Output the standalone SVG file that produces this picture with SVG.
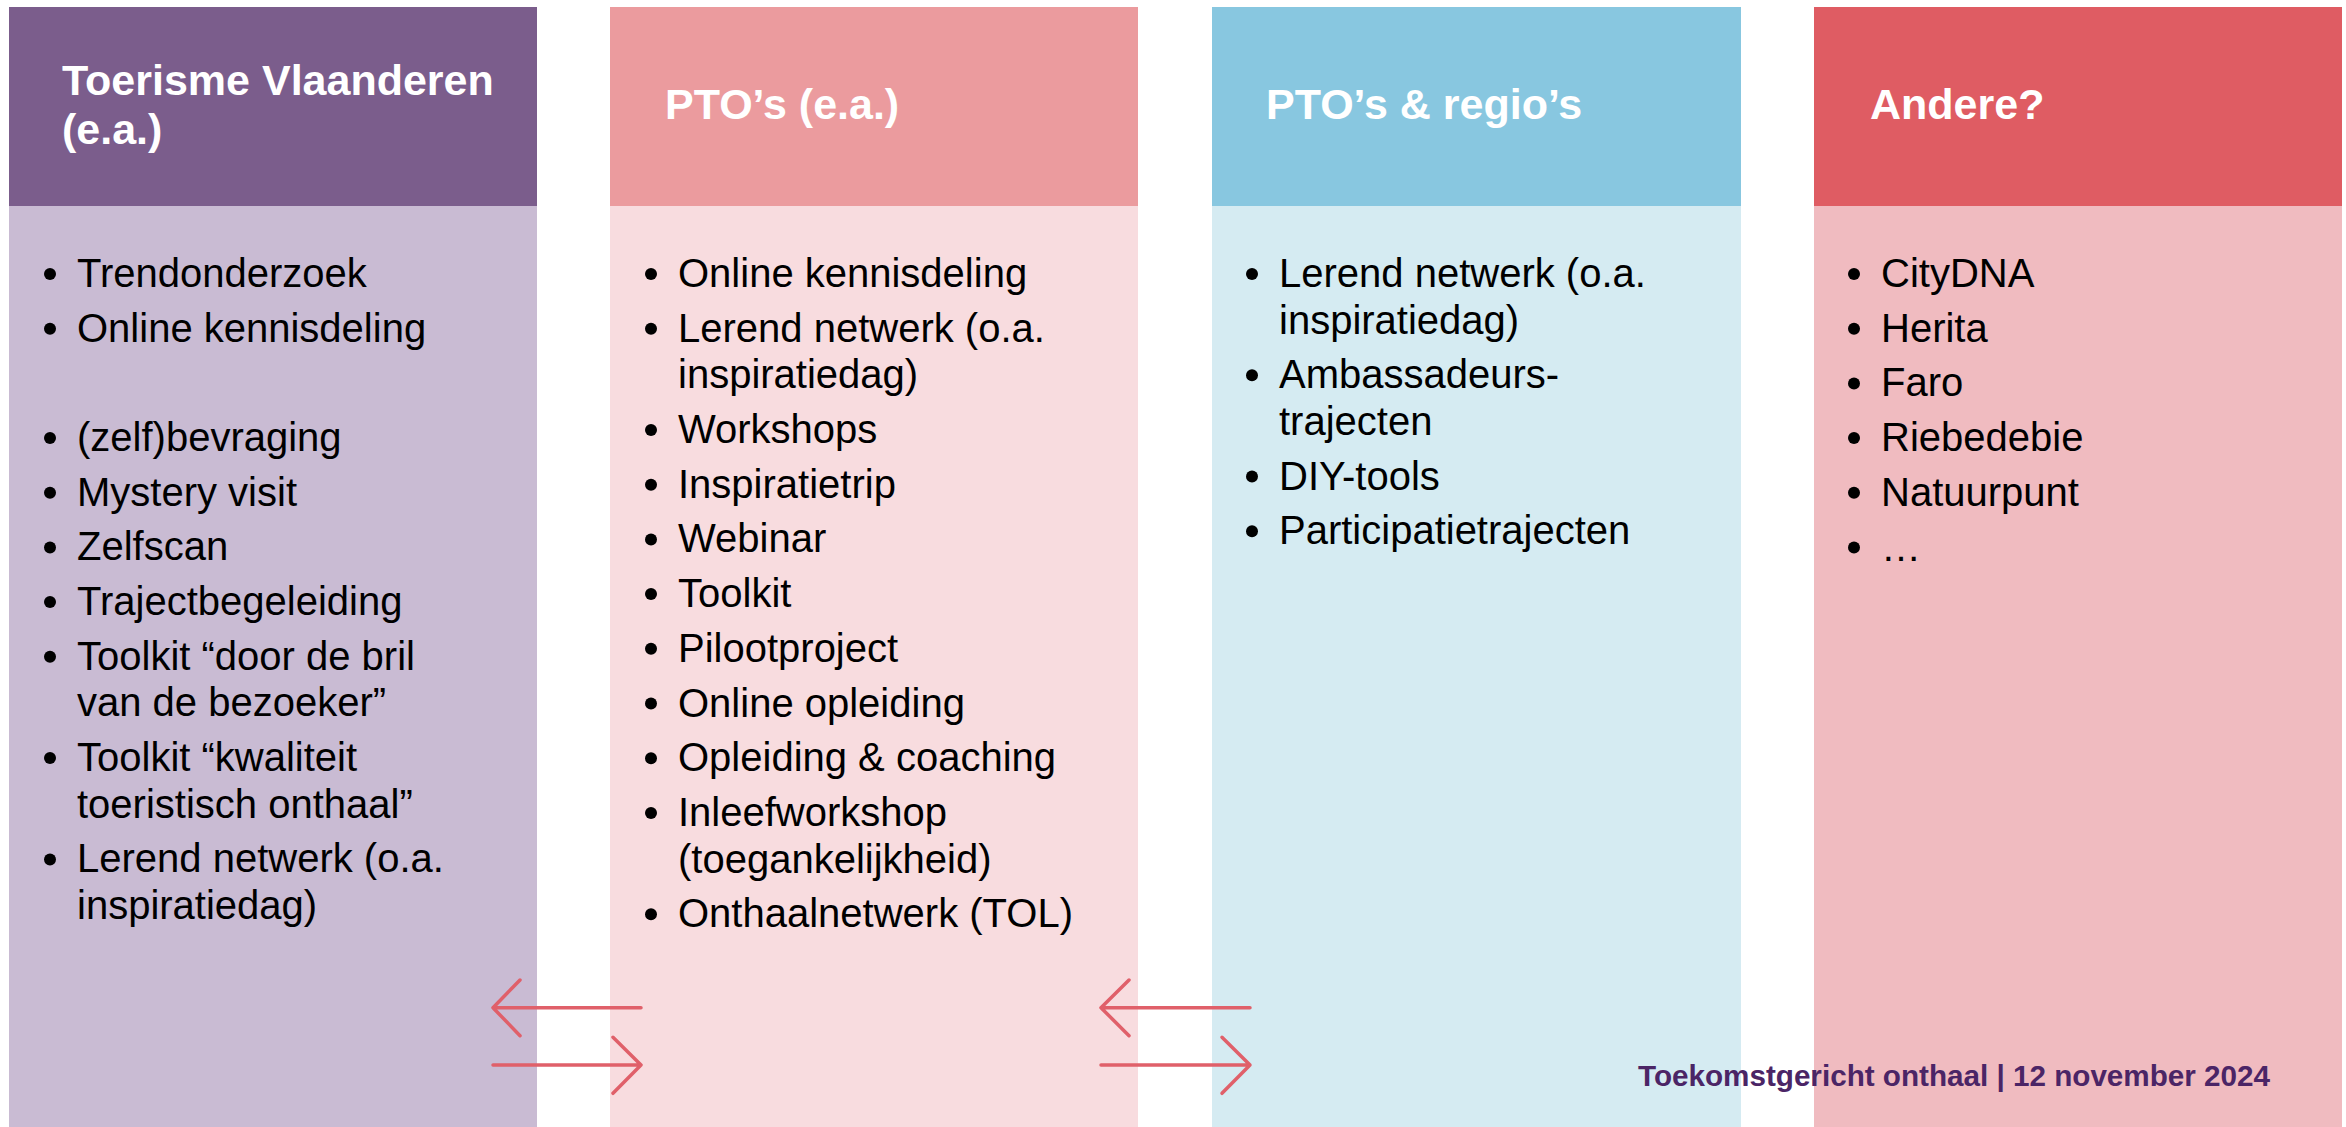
<svg xmlns="http://www.w3.org/2000/svg" width="2346" height="1127" viewBox="0 0 2346 1127">
<style>
.hd{font-family:"Liberation Sans",Arial,sans-serif;font-weight:bold;font-size:43px;fill:#ffffff}
.it{font-family:"Liberation Sans",Arial,sans-serif;font-size:40px;fill:#000000}
.bul{fill:#000000}
.arr{fill:none;stroke:#E0606A;stroke-width:3.5;stroke-linecap:round;stroke-linejoin:round}
.ft{font-family:"Liberation Sans",Arial,sans-serif;font-weight:bold;font-size:29px;fill:#4B2566}
</style>
<rect x="0" y="0" width="2346" height="1127" fill="#ffffff"/>

<g id="col-toerisme-vlaanderen">
<rect x="9" y="7" width="528" height="199" fill="#7B5D8C"/>
<rect x="9" y="206" width="528" height="921" fill="#C9BBD3"/>
<text class="hd" x="62" y="95">Toerisme Vlaanderen</text>
<text class="hd" x="62" y="144">(e.a.)</text>
<g class="bul">
<circle cx="50" cy="274" r="6"/><circle cx="50" cy="328.7" r="6"/><circle cx="50" cy="438" r="6"/><circle cx="50" cy="492.7" r="6"/><circle cx="50" cy="547.4" r="6"/><circle cx="50" cy="602.1" r="6"/><circle cx="50" cy="656.8" r="6"/><circle cx="50" cy="758.1" r="6"/><circle cx="50" cy="859.4" r="6"/>
</g>
<text class="it" x="77" y="287">Trendonderzoek</text>
<text class="it" x="77" y="341.7">Online kennisdeling</text>
<text class="it" x="77" y="451">(zelf)bevraging</text>
<text class="it" x="77" y="505.7">Mystery visit</text>
<text class="it" x="77" y="560.4">Zelfscan</text>
<text class="it" x="77" y="615.1">Trajectbegeleiding</text>
<text class="it" x="77" y="669.8">Toolkit “door de bril</text>
<text class="it" x="77" y="716.4">van de bezoeker”</text>
<text class="it" x="77" y="771.1">Toolkit “kwaliteit</text>
<text class="it" x="77" y="817.7">toeristisch onthaal”</text>
<text class="it" x="77" y="872.4">Lerend netwerk (o.a.</text>
<text class="it" x="77" y="919">inspiratiedag)</text>
</g>

<g id="col-ptos">
<rect x="610" y="7" width="528" height="199" fill="#EB9B9E"/>
<rect x="610" y="206" width="528" height="921" fill="#F8DCDF"/>
<text class="hd" x="665" y="119">PTO’s (e.a.)</text>
<g class="bul">
<circle cx="651" cy="274" r="6"/><circle cx="651" cy="328.7" r="6"/><circle cx="651" cy="430" r="6"/><circle cx="651" cy="484.7" r="6"/><circle cx="651" cy="539.4" r="6"/><circle cx="651" cy="594.1" r="6"/><circle cx="651" cy="648.8" r="6"/><circle cx="651" cy="703.5" r="6"/><circle cx="651" cy="758.2" r="6"/><circle cx="651" cy="812.9" r="6"/><circle cx="651" cy="914.2" r="6"/>
</g>
<text class="it" x="678" y="287">Online kennisdeling</text>
<text class="it" x="678" y="341.7">Lerend netwerk (o.a.</text>
<text class="it" x="678" y="388.3">inspiratiedag)</text>
<text class="it" x="678" y="443">Workshops</text>
<text class="it" x="678" y="497.7">Inspiratietrip</text>
<text class="it" x="678" y="552.4">Webinar</text>
<text class="it" x="678" y="607.1">Toolkit</text>
<text class="it" x="678" y="661.8">Pilootproject</text>
<text class="it" x="678" y="716.5">Online opleiding</text>
<text class="it" x="678" y="771.2">Opleiding &amp; coaching</text>
<text class="it" x="678" y="825.9">Inleefworkshop</text>
<text class="it" x="678" y="872.5">(toegankelijkheid)</text>
<text class="it" x="678" y="927.2">Onthaalnetwerk (TOL)</text>
</g>

<g id="col-ptos-regios">
<rect x="1212" y="7" width="529" height="199" fill="#88C7E0"/>
<rect x="1212" y="206" width="529" height="921" fill="#D5EBF2"/>
<text class="hd" x="1266" y="119">PTO’s &amp; regio’s</text>
<g class="bul">
<circle cx="1252" cy="274" r="6"/><circle cx="1252" cy="375.3" r="6"/><circle cx="1252" cy="476.6" r="6"/><circle cx="1252" cy="531.3" r="6"/>
</g>
<text class="it" x="1279" y="287">Lerend netwerk (o.a.</text>
<text class="it" x="1279" y="333.6">inspiratiedag)</text>
<text class="it" x="1279" y="388.3">Ambassadeurs-</text>
<text class="it" x="1279" y="434.9">trajecten</text>
<text class="it" x="1279" y="489.6">DIY-tools</text>
<text class="it" x="1279" y="544.3">Participatietrajecten</text>
</g>

<g id="col-andere">
<rect x="1814" y="7" width="528" height="199" fill="#DF5C63"/>
<rect x="1814" y="206" width="528" height="921" fill="#F0BBC0"/>
<text class="hd" x="1870" y="119">Andere?</text>
<g class="bul">
<circle cx="1854" cy="274" r="6"/><circle cx="1854" cy="328.7" r="6"/><circle cx="1854" cy="383.4" r="6"/><circle cx="1854" cy="438.1" r="6"/><circle cx="1854" cy="492.8" r="6"/><circle cx="1854" cy="547.5" r="6"/>
</g>
<text class="it" x="1881" y="287">CityDNA</text>
<text class="it" x="1881" y="341.7">Herita</text>
<text class="it" x="1881" y="396.4">Faro</text>
<text class="it" x="1881" y="451.1">Riebedebie</text>
<text class="it" x="1881" y="505.8">Natuurpunt</text>
<text class="it" x="1881" y="560.5">…</text>
</g>

<g id="connectors">
<path class="arr" d="M641 1007.7 H493 M520 980 L493 1007.7 L520 1035.7"/>
<path class="arr" d="M493 1065 H641 M613 1037.3 L641 1065 L613 1093.3"/>
<path class="arr" d="M1250 1007.7 H1101 M1129 980 L1101 1007.7 L1129 1035.7"/>
<path class="arr" d="M1101 1065 H1250 M1222 1037.3 L1250 1065 L1222 1093.3"/>
</g>

<text class="ft" x="1638" y="1086" textLength="632" lengthAdjust="spacingAndGlyphs">Toekomstgericht onthaal | 12 november 2024</text>
</svg>
